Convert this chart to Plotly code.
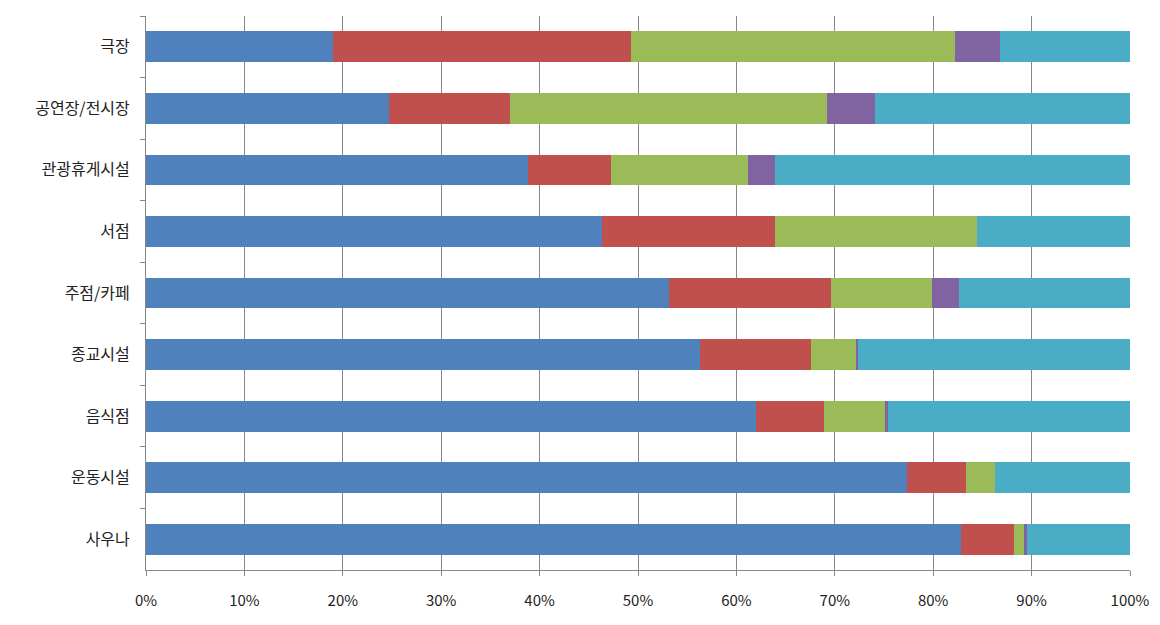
import plotly.graph_objects as go

categories = ["극장", "공연장/전시장", "관광휴게시설", "서점", "주점/카페", "종교시설", "음식점", "운동시설", "사우나"]
s1 = [19.0, 24.7, 38.8, 46.3, 53.2, 56.3, 62.0, 77.3, 82.8]
s2 = [30.3, 12.3, 8.5, 17.6, 16.4, 11.3, 6.9, 6.0, 5.4]
s3 = [32.9, 32.2, 13.9, 20.5, 10.3, 4.6, 6.3, 3.0, 1.0]
s4 = [4.6, 4.9, 2.7, 0.0, 2.7, 0.2, 0.2, 0.0, 0.3]
s5 = [round(100 - a - b - c - d, 1) for a, b, c, d in zip(s1, s2, s3, s4)]
series = [s1, s2, s3, s4, s5]
series_names = ["계열1", "계열2", "계열3", "계열4", "계열5"]
colors = ["#4F81BD", "#C0504D", "#9BBB59", "#8064A2", "#4BACC6"]
tick_vals = [0, 10, 20, 30, 40, 50, 60, 70, 80, 90, 100]
tick_text = [f"{v}%" for v in tick_vals]

fig = go.Figure()
for name, vals, col in zip(series_names, series, colors):
    fig.add_trace(go.Bar(
        y=categories, x=vals, name=name, orientation="h",
        marker=dict(color=col, line=dict(width=0)),
    ))

fig.update_layout(
    barmode="stack",
    bargap=0.5,
    width=1160, height=625,
    margin=dict(l=138, r=38, t=8, b=63),
    paper_bgcolor="white", plot_bgcolor="white",
    showlegend=False,
    font=dict(family="Noto Sans CJK KR", size=15, color="#222222"),
)
fig.update_xaxes(
    range=[0, 100], tickvals=tick_vals, ticktext=tick_text,
    showgrid=True, gridcolor="#878787", gridwidth=1,
    showline=True, linecolor="#878787", linewidth=1,
    ticks="outside", ticklen=5, tickcolor="#878787",
    tickfont=dict(size=15), ticklabelstandoff=12,
    zeroline=False,
)
fig.update_yaxes(
    autorange="reversed",
    showline=True, linecolor="#878787", linewidth=1,
    ticks="outside", ticklen=5, tickcolor="#878787",
    tickson="boundaries",
    tickfont=dict(size=16), ticklabelstandoff=12,
    showgrid=False,
)

fig.write_html("out.html")
